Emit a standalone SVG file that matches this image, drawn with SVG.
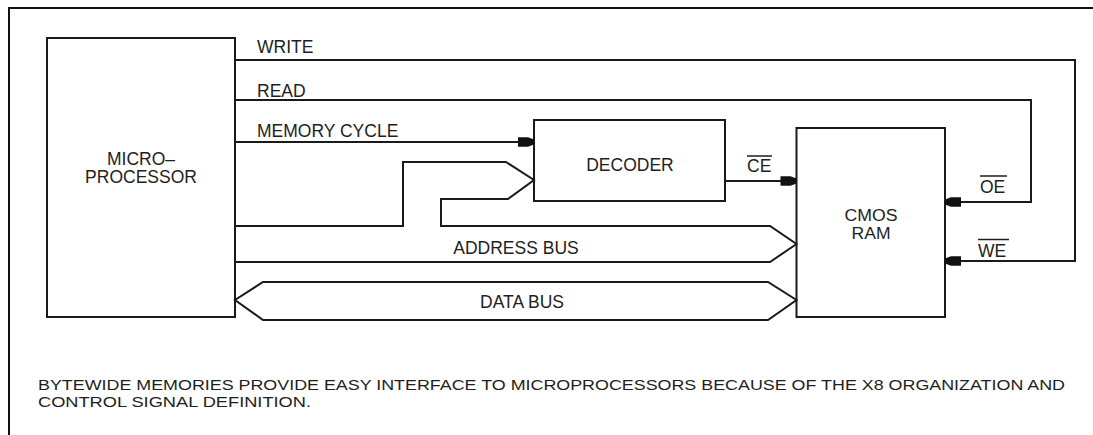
<svg xmlns="http://www.w3.org/2000/svg" width="1093" height="435" viewBox="0 0 1093 435">
  <style>
    .box { fill: #ffffff; stroke: #1a1a1a; stroke-width: 2; }
    .wire { fill: none; stroke: #1a1a1a; stroke-width: 2; }
    .frame { fill: none; stroke: #111111; stroke-width: 2; }
    .t { font-family: "Liberation Sans", Arial, sans-serif; font-size: 17.5px; fill: #1e1e1e; }
    .s { font-size: 16px; }
    .cap { font-size: 15px; }
    .c { text-anchor: middle; }
    .ov { stroke: #1e1e1e; stroke-width: 1.5; }
  </style>
  <defs>
    <marker id="ah" markerUnits="userSpaceOnUse" markerWidth="18" markerHeight="12" viewBox="-17 -6 18 12" refX="0" refY="0" orient="auto">
      <path d="M0,-2.5 L-6,-4.8 L-16,-4.8 L-16,4.8 L-6,4.8 L0,2.5 Z" fill="#111111"/>
    </marker>
  </defs>
  <rect width="1093" height="435" fill="#ffffff"/>
  <g id="frame">
    <path class="frame" d="M9,436 V8 H1094"/>
  </g>
  <g id="microprocessor">
    <rect class="box" x="47" y="38" width="188" height="279"/>
    <text class="t c" x="141" y="165">MICRO–</text>
    <text class="t c" x="141" y="183">PROCESSOR</text>
  </g>
  <g id="decoder">
    <rect class="box" x="534" y="120" width="191" height="81"/>
    <text class="t c" x="630" y="171">DECODER</text>
  </g>
  <g id="cmos-ram">
    <rect class="box" x="796.5" y="128" width="148.5" height="189"/>
    <text class="t s c" x="871" y="221" textLength="53" lengthAdjust="spacingAndGlyphs">CMOS</text>
    <text class="t s c" x="871" y="239" textLength="39" lengthAdjust="spacingAndGlyphs">RAM</text>
  </g>
  <g id="connectors">
    <path class="wire" d="M235,60 H1075 V261 H945" marker-end="url(#ah)"/>
    <path class="wire" d="M235,100 H1031 V202 H945" marker-end="url(#ah)"/>
    <path class="wire" d="M235,142 H534" marker-end="url(#ah)"/>
    <path class="wire" d="M725,181 H796.5" marker-end="url(#ah)"/>
    <path class="wire" d="M235,226 H403 V162 H506 L534,180 L508,199 H441 V226 H770 L796.5,244 L770,262 H235"/>
    <path class="wire" d="M263,282 H768 L796.5,300 L768,320 H263 L235,300 Z"/>
    <text class="t" x="257" y="53">WRITE</text>
    <text class="t" x="257" y="97">READ</text>
    <text class="t" x="257" y="137">MEMORY CYCLE</text>
    <text class="t c" x="516" y="254">ADDRESS BUS</text>
    <text class="t c" x="522" y="308">DATA BUS</text>
    <text class="t" x="747" y="172">CE</text>
    <line class="ov" x1="747" y1="156" x2="772" y2="156"/>
    <text class="t" x="980" y="193">OE</text>
    <line class="ov" x1="980" y1="176" x2="1007" y2="176"/>
    <text class="t" x="978" y="257">WE</text>
    <line class="ov" x1="978" y1="239.5" x2="1009" y2="239.5"/>
  </g>
  <g id="caption">
    <text class="t cap" x="38" y="389.5" textLength="1027" lengthAdjust="spacingAndGlyphs">BYTEWIDE MEMORIES PROVIDE EASY INTERFACE TO MICROPROCESSORS BECAUSE OF THE X8 ORGANIZATION AND</text>
    <text class="t cap" x="38" y="407" textLength="273" lengthAdjust="spacingAndGlyphs">CONTROL SIGNAL DEFINITION.</text>
  </g>
</svg>
